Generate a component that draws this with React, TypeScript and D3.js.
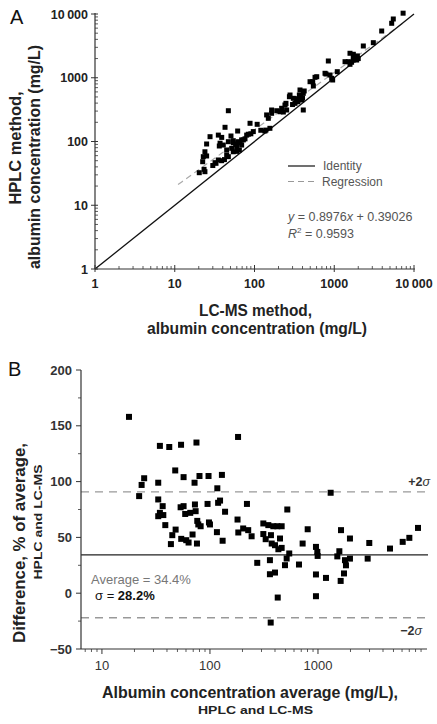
import React from 'react';
import * as d3 from 'd3';

// Panel A: LC-MS (x) vs HPLC (y), mg/L
const lcms = [20.3,23.9,23.3,22.4,22.8,23.9,25.1,27.7,25.1,32.9,32,35.2,38.7,35.2,36.2,40.6,42.7,47,38.8,37,44.8,44.8,47,47,50.7,51.8,54.2,54.2,59.8,61.5,62.7,64.6,69,72.5,79.8,83.7,87.9,96.6,108,54.2,69,30,42,58,66,76,90,60,
  135,139,142,149,156,164,164,190,209,219,241,253,248,274,279,307,322,338,365,372,391,409,409,350,380,420,497,537,547,574,603,120,230,300,340,400,
  766,788,843,885,929,955,1092,1365,1500,1575,1575,1735,1735,1735,1910,1800,2000,1650,1950,2315,3090,3935,5250,5500,7300];
const hplc = [32.4,33.6,36.6,48.2,57.8,69,91.4,119,59.3,45.5,46.5,51.3,50,126,85,88,167,304,116,94,73.6,61.4,57.8,99.3,122,78.2,95.7,69,83,146,99.3,73.6,88,106,126,130,193,143,186,103,106,42,52,90,95,110,132,70,
  146,151,261,231,161,277,312,304,293,332,374,312,397,504,536,476,397,448,536,643,448,570,312,420,500,620,867,867,743,1016,1038,150,290,380,470,480,
  1175,1145,1832,1104,980,922,1245,1786,1786,1625,2420,2020,2335,1897,1897,2100,2000,1750,2200,3150,3550,5410,7150,8350,10300];

// Panel B: Bland-Altman
const baAvg = [17.8,34.4,42,54,75,24.6,47.7,57,80,97,129,23.3,33.2,72,182,117,1310,520,220,22.1,33.2,36.5,34.4,37,33.2,38.6,44.8,48.1,43.5,54.2,60.3,63.4,69,75.8,57,53.5,59,65.7,72.6,73.7,76.3,78,82,95,97.9,100,119,124,138,116,131,
  180,183,203,226,243,312,347,386,420,461,312,328,367,373,400,445,430,461,542,274,359,359,400,513,495,667,721,803,424,365,958,986,993,958,1186,958,
  1634,1977,2985,1577,1510,1778,1977,1816,1741,1622,2884,4642,6086,7011,8433];
const baDiff = [158,132,131,133,135,103,110,104,105,105,106,97,99,99,140,94,90,75,80,87,84,78,72,70,69,61,52,57,44,48.7,47.5,45.4,52.6,44.5,78,77,71,72,79.5,73.5,64.8,61.6,60,80,63.4,61.6,81,83,73,54.7,47,
  66,54.4,58,56.5,51,62.5,61,60,60,60,53,48.4,52,44.5,43,49,39.4,40.6,35.6,27.2,29.6,17,18.5,31.1,25.1,25.7,44.5,57.3,-3.9,-26.3,41.5,37,33.4,16.8,13.7,-2.7,
  56.5,49,45,37.6,33,29.6,31,25,17.7,11,31,40,46,49.6,58.5];

const ticksA = [1, 10, 100, 1000, 10000];
const tickLabelsA = ['1', '10', '100', '1000', '10\u2009000'];
const ticksBY = [200, 150, 100, 50, 0, -50];
const ticksBX = [10, 100, 1000];
const meanDiff = 34.4;
const sdDiff = 28.2;
const regSlope = 0.8976;
const regIntercept = 0.39026;

const FONT = 'Liberation Sans, Arial, sans-serif';
const AX = '#333';

export default function App() {
  const xA = d3.scaleLog().domain([1, 10000]).range([95, 414]);
  const yA = d3.scaleLog().domain([1, 10000]).range([269, 14]);
  const xB = d3.scaleLog().domain([6.4, 10000]).range([81, 426]);
  const yB = d3.scaleLinear().domain([-50, 200]).range([649, 370]);

  const minorA: number[] = [];
  for (let d = 0; d < 4; d++) for (let m = 2; m <= 9; m++) minorA.push(m * Math.pow(10, d));
  const minorBX: number[] = [7, 8, 9];
  for (let d = 1; d < 4; d++) for (let m = 2; m <= 9; m++) minorBX.push(m * Math.pow(10, d));
  const minorBY = [175, 125, 75, 25, -25];

  const regX = d3.range(Math.log10(11), Math.log10(8000), 0.05).map((l) => Math.pow(10, l));
  const regLine = d3.line<number>()
    .x((v) => xA(v))
    .y((v) => yA(Math.pow(10, regSlope * Math.log10(v) + regIntercept)));

  const sq = (cx: number, cy: number, s: number, k: string) => (
    <rect key={k} x={cx - s / 2} y={cy - s / 2} width={s} height={s} fill="#000" />
  );

  return (
    <svg width={437} height={724} style={{ position: 'absolute', left: 0, top: 0, background: '#fff' }} fontFamily={FONT}>
      {/* ===== Panel A ===== */}
      <text x={10} y={24} fontSize={20} fill="#111">A</text>
      <path d={regLine(regX) || ''} fill="none" stroke="#aaa" strokeWidth={1.2} strokeDasharray="6,4" />
      <line x1={xA(1)} y1={yA(1)} x2={xA(10000)} y2={yA(10000)} stroke="#111" strokeWidth={1.3} />
      <line x1={95} y1={yA(10000) - 1} x2={95} y2={269} stroke={AX} strokeWidth={1.2} />
      <line x1={95} y1={269} x2={415} y2={269} stroke={AX} strokeWidth={1.2} />
      {ticksA.map((t, i) => (
        <g key={'ta' + i}>
          <line x1={xA(t)} y1={265} x2={xA(t)} y2={272} stroke={AX} />
          <line x1={91} y1={yA(t)} x2={98} y2={yA(t)} stroke={AX} />
          <text x={xA(t)} y={288} fontSize={12.5} fontWeight="bold" textAnchor="middle" fill="#222">{tickLabelsA[i]}</text>
          <text x={88} y={yA(t) + 4.5} fontSize={12.5} fontWeight="bold" textAnchor="end" fill="#222">{tickLabelsA[i]}</text>
        </g>
      ))}
      {minorA.map((t, i) => (
        <g key={'ma' + i}>
          <line x1={xA(t)} y1={266} x2={xA(t)} y2={269} stroke={AX} strokeWidth={0.8} />
          <line x1={95} y1={yA(t)} x2={98} y2={yA(t)} stroke={AX} strokeWidth={0.8} />
        </g>
      ))}
      {lcms.map((v, i) => sq(xA(v), yA(hplc[i]), 5, 'a' + i))}
      {/* legend */}
      <line x1={288} y1={166} x2={315} y2={166} stroke="#111" strokeWidth={1.2} />
      <text x={323} y={170} fontSize={12} fill="#555">Identity</text>
      <line x1={288} y1={181.5} x2={315} y2={181.5} stroke="#999" strokeWidth={1.2} strokeDasharray="6,4" />
      <text x={322} y={185.5} fontSize={12} fill="#555">Regression</text>
      <text x={288} y={221} fontSize={12.5} fill="#555">
        <tspan fontStyle="italic">y</tspan> = 0.8976<tspan fontStyle="italic">x</tspan> + 0.39026
      </text>
      <text x={288} y={237.5} fontSize={12.5} fill="#555">
        <tspan fontStyle="italic">R</tspan><tspan fontSize={8} dy={-5}>2</tspan><tspan dy={5}> = 0.9593</tspan>
      </text>
      {/* axis titles A */}
      <text x={255.5} y={316} fontSize={16} fontWeight="bold" textAnchor="middle" fill="#222" textLength={113} lengthAdjust="spacingAndGlyphs">LC-MS method,</text>
      <text x={257} y={333.5} fontSize={16} fontWeight="bold" textAnchor="middle" fill="#222" textLength={220} lengthAdjust="spacingAndGlyphs">albumin concentration (mg/L)</text>
      <text transform="translate(21,148) rotate(-90)" fontSize={16} fontWeight="bold" textAnchor="middle" fill="#222" textLength={113} lengthAdjust="spacingAndGlyphs">HPLC method,</text>
      <text transform="translate(40,157) rotate(-90)" fontSize={16} fontWeight="bold" textAnchor="middle" fill="#222" textLength={224} lengthAdjust="spacingAndGlyphs">albumin concentration (mg/L)</text>

      {/* ===== Panel B ===== */}
      <text x={8} y={376} fontSize={20} fill="#111">B</text>
      <line x1={81} y1={yB(meanDiff + 2 * sdDiff)} x2={428} y2={yB(meanDiff + 2 * sdDiff)} stroke="#999" strokeWidth={1.3} strokeDasharray="8,6" />
      <line x1={81} y1={yB(meanDiff - 2 * sdDiff)} x2={428} y2={yB(meanDiff - 2 * sdDiff)} stroke="#999" strokeWidth={1.3} strokeDasharray="8,6" />
      <line x1={81} y1={yB(meanDiff)} x2={428} y2={yB(meanDiff)} stroke="#222" strokeWidth={1.2} />
      <line x1={81} y1={370} x2={81} y2={649} stroke={AX} strokeWidth={1.2} />
      <line x1={81} y1={649} x2={427} y2={649} stroke={AX} strokeWidth={1.2} />
      {ticksBY.map((t, i) => (
        <g key={'by' + i}>
          <line x1={76} y1={yB(t)} x2={81} y2={yB(t)} stroke={AX} />
          <text x={72} y={yB(t) + 4.5} fontSize={13} fontWeight="bold" textAnchor="end" fill="#333">{t < 0 ? '\u2212' + Math.abs(t) : String(t)}</text>
        </g>
      ))}
      {minorBY.map((t, i) => (
        <line key={'mby' + i} x1={78} y1={yB(t)} x2={81} y2={yB(t)} stroke={AX} strokeWidth={0.8} />
      ))}
      {ticksBX.map((t, i) => (
        <g key={'bx' + i}>
          <line x1={xB(t)} y1={649} x2={xB(t)} y2={654} stroke={AX} />
          <text x={xB(t)} y={670} fontSize={13} textAnchor="middle" fill="#333">{String(t)}</text>
        </g>
      ))}
      {minorBX.map((t, i) => (
        <line key={'mbx' + i} x1={xB(t)} y1={649} x2={xB(t)} y2={652} stroke={AX} strokeWidth={0.8} />
      ))}
      {baAvg.map((v, i) => sq(xB(v), yB(baDiff[i]), 6, 'b' + i))}
      <text x={430} y={486} fontSize={12.5} fontWeight="bold" textAnchor="end" fill="#333">+2<tspan fontStyle="italic" fontWeight="normal">σ</tspan></text>
      <text x={422} y={635} fontSize={12.5} fontWeight="bold" textAnchor="end" fill="#333">−2<tspan fontStyle="italic" fontWeight="normal">σ</tspan></text>
      <text x={91} y={583.5} fontSize={13} fill="#777">Average = 34.4%</text>
      <text x={95} y={599.5} fontSize={13} fill="#111">σ = <tspan fontWeight="bold">28.2%</tspan></text>
      <text x={250} y={698} fontSize={17} fontWeight="bold" textAnchor="middle" fill="#222" textLength={296} lengthAdjust="spacingAndGlyphs">Albumin concentration average (mg/L),</text>
      <text x={255.5} y={713.5} fontSize={11.5} fontWeight="bold" textAnchor="middle" fill="#222" textLength={115} lengthAdjust="spacingAndGlyphs">HPLC and LC-MS</text>
      <text transform="translate(25,543) rotate(-90)" fontSize={16.5} fontWeight="bold" textAnchor="middle" fill="#222" textLength={200} lengthAdjust="spacingAndGlyphs">Difference, % of average,</text>
      <text transform="translate(42,522) rotate(-90)" fontSize={11.5} fontWeight="bold" textAnchor="middle" fill="#222" textLength={115} lengthAdjust="spacingAndGlyphs">HPLC and LC-MS</text>
    </svg>
  );
}
